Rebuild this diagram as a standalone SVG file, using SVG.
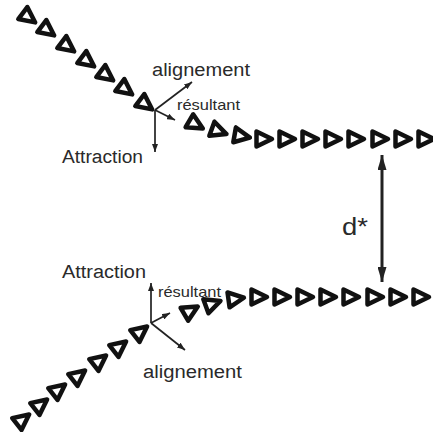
<svg xmlns="http://www.w3.org/2000/svg" width="433" height="432" viewBox="0 0 433 432">
<style>
.tri{fill:#fff;stroke:#111;stroke-width:4.5;stroke-linejoin:round}
.vec{stroke:#222;stroke-width:1.7;fill:none;marker-end:url(#ah)}
.dist{stroke:#222;stroke-width:3;fill:none;marker-start:url(#bh);marker-end:url(#bh)}
text{font-family:"Liberation Sans",Arial,sans-serif;fill:#2a2a2a}
.lbl{font-size:18px}
.sm{font-size:14.5px}
</style>
<defs>
<path id="t" class="tri" d="M9,0 L-6.5,-7.5 L-6.5,7.5Z"/>
<marker id="ah" markerUnits="userSpaceOnUse" markerWidth="8" markerHeight="6" refX="8" refY="3" orient="auto"><path d="M0,0 L8,3 L0,6Z" fill="#222"/></marker>
<marker id="bh" markerUnits="userSpaceOnUse" markerWidth="15" markerHeight="9" refX="15" refY="4.5" orient="auto-start-reverse"><path d="M0,0 L15,4.5 L0,9Z" fill="#222"/></marker>
</defs>
<g id="top-trajectory">
<use href="#t" transform="translate(28,17) rotate(37)"/>
<use href="#t" transform="translate(47,30) rotate(37)"/>
<use href="#t" transform="translate(67,46) rotate(37)"/>
<use href="#t" transform="translate(87,61) rotate(37)"/>
<use href="#t" transform="translate(106,75) rotate(37)"/>
<use href="#t" transform="translate(125,89) rotate(37)"/>
<use href="#t" transform="translate(145,104) rotate(37)"/>
<use href="#t" transform="translate(195,124) rotate(30)"/>
<use href="#t" transform="translate(218,131) rotate(20)"/>
<use href="#t" transform="translate(241,136) rotate(10)"/>
<use href="#t" transform="translate(263,139)"/>
<use href="#t" transform="translate(286,139)"/>
<use href="#t" transform="translate(309,139)"/>
<use href="#t" transform="translate(332,139)"/>
<use href="#t" transform="translate(355,139)"/>
<use href="#t" transform="translate(379,139)"/>
<use href="#t" transform="translate(402,139)"/>
<use href="#t" transform="translate(425,139)"/>
</g>
<g id="bottom-trajectory">
<use href="#t" transform="translate(22,420) rotate(-38)"/>
<use href="#t" transform="translate(40,405) rotate(-38)"/>
<use href="#t" transform="translate(58,390) rotate(-38)"/>
<use href="#t" transform="translate(78,376) rotate(-38)"/>
<use href="#t" transform="translate(99,361) rotate(-38)"/>
<use href="#t" transform="translate(119,347) rotate(-38)"/>
<use href="#t" transform="translate(140,332) rotate(-38)"/>
<use href="#t" transform="translate(190,311) rotate(-30)"/>
<use href="#t" transform="translate(212,304) rotate(-20)"/>
<use href="#t" transform="translate(235,299) rotate(-8)"/>
<use href="#t" transform="translate(258,297)"/>
<use href="#t" transform="translate(281,297)"/>
<use href="#t" transform="translate(304,297)"/>
<use href="#t" transform="translate(327,297)"/>
<use href="#t" transform="translate(350,297)"/>
<use href="#t" transform="translate(374,297)"/>
<use href="#t" transform="translate(397,297)"/>
<use href="#t" transform="translate(420,297)"/>
</g>
<g id="connectors">
<line class="vec" x1="155" y1="110" x2="155" y2="152"/>
<line class="vec" x1="155" y1="110" x2="192" y2="82"/>
<line class="vec" x1="155" y1="110" x2="175" y2="120"/>
<line class="vec" x1="151" y1="323" x2="151" y2="283"/>
<line class="vec" x1="151" y1="323" x2="170" y2="313"/>
<line class="vec" x1="151" y1="323" x2="185" y2="350"/>
<line class="dist" x1="382" y1="155" x2="382" y2="282"/>
</g>
<g id="labels">
<text class="lbl" x="152" y="76" textLength="98" lengthAdjust="spacingAndGlyphs">alignement</text>
<text class="sm" x="177" y="110" textLength="63" lengthAdjust="spacingAndGlyphs">résultant</text>
<text class="lbl" x="62" y="163" textLength="81" lengthAdjust="spacingAndGlyphs">Attraction</text>
<text x="342" y="235" style="font-size:23px" textLength="26" lengthAdjust="spacingAndGlyphs">d*</text>
<text class="lbl" x="62" y="278" textLength="84" lengthAdjust="spacingAndGlyphs">Attraction</text>
<text class="sm" x="158" y="297" textLength="63" lengthAdjust="spacingAndGlyphs">résultant</text>
<text class="lbl" x="143" y="378" textLength="99" lengthAdjust="spacingAndGlyphs">alignement</text>
</g>
</svg>
